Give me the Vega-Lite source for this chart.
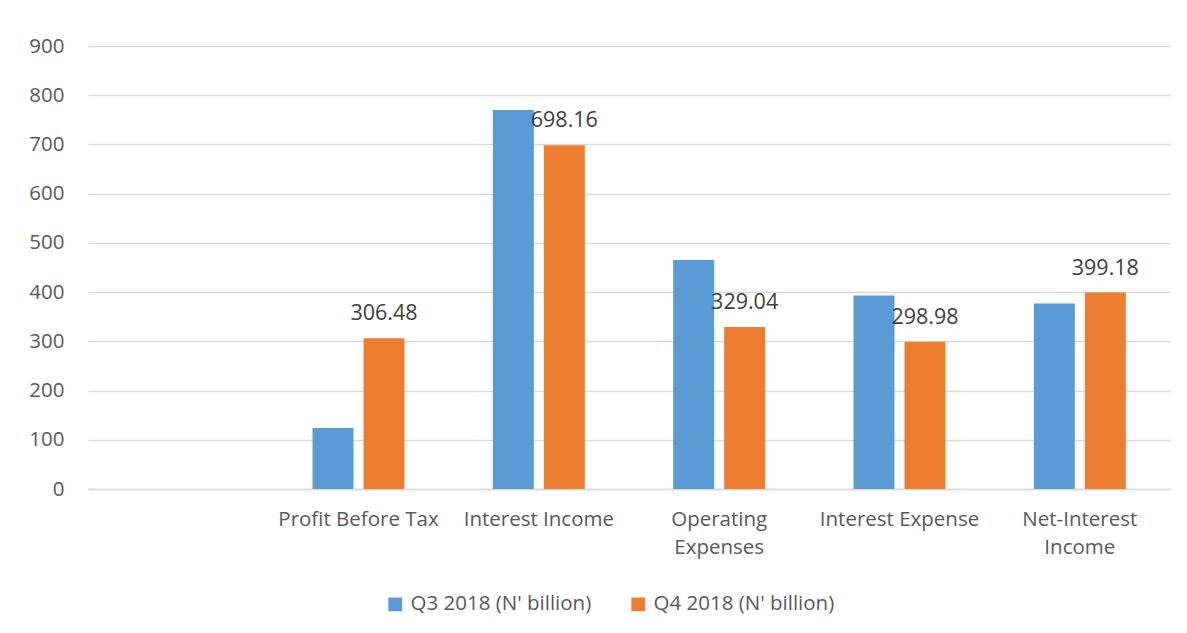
{
  "$schema": "https://vega.github.io/schema/vega-lite/v6.json",
  "autosize": {"type": "none"},
  "width": 1082,
  "height": 443,
  "padding": {"left": 88, "top": 46, "right": 17, "bottom": 144},
  "background": "white",
  "config": {
    "font": "Open Sans",
    "view": {"stroke": null}
  },
  "data": {
    "values": [
      {"category": "Profit Before Tax", "series": "Q3 2018 (N' billion)", "value": 124},
      {"category": "Profit Before Tax", "series": "Q4 2018 (N' billion)", "value": 306.48},
      {"category": "Interest Income", "series": "Q3 2018 (N' billion)", "value": 770},
      {"category": "Interest Income", "series": "Q4 2018 (N' billion)", "value": 698.16},
      {"category": "Operating Expenses", "series": "Q3 2018 (N' billion)", "value": 465},
      {"category": "Operating Expenses", "series": "Q4 2018 (N' billion)", "value": 329.04},
      {"category": "Interest Expense", "series": "Q3 2018 (N' billion)", "value": 393},
      {"category": "Interest Expense", "series": "Q4 2018 (N' billion)", "value": 298.98},
      {"category": "Net-Interest Income", "series": "Q3 2018 (N' billion)", "value": 377},
      {"category": "Net-Interest Income", "series": "Q4 2018 (N' billion)", "value": 399.18}
    ]
  },
  "encoding": {
    "x": {
      "field": "category",
      "type": "nominal",
      "sort": null,
      "scale": {
        "domain": [" ", "Profit Before Tax", "Interest Income", "Operating Expenses", "Interest Expense", "Net-Interest Income"],
        "paddingInner": 0.49,
        "paddingOuter": 0.245
      },
      "axis": {
        "title": null,
        "labelAngle": 0,
        "ticks": false,
        "domainColor": "#d9d9d9",
        "domainWidth": 1.5,
        "labelFontSize": 20.5,
        "labelColor": "#595959",
        "labelPadding": 20,
        "labelLineHeight": 28,
        "labelLimit": 0,
        "labelExpr": "datum.label == 'Operating Expenses' ? ['Operating', 'Expenses'] : datum.label == 'Net-Interest Income' ? ['Net-Interest', 'Income'] : datum.label"
      }
    },
    "xOffset": {
      "field": "series",
      "type": "nominal",
      "scale": {"paddingInner": 0.196, "paddingOuter": 0}
    },
    "y": {
      "field": "value",
      "type": "quantitative",
      "scale": {"domain": [0, 900]},
      "axis": {
        "title": null,
        "values": [0, 100, 200, 300, 400, 500, 600, 700, 800, 900],
        "domain": false,
        "ticks": false,
        "gridColor": "#d9d9d9",
        "gridWidth": 1.5,
        "labelFontSize": 20.5,
        "labelColor": "#595959",
        "labelPadding": 24
      }
    }
  },
  "layer": [
    {
      "mark": {"type": "bar"},
      "encoding": {
        "color": {
          "field": "series",
          "type": "nominal",
          "scale": {"range": ["#5B9BD5", "#ED7D31"]},
          "legend": {
            "title": null,
            "orient": "none",
            "direction": "horizontal",
            "legendX": 297,
            "legendY": 548,
            "symbolType": "square",
            "symbolSize": 190,
            "symbolStrokeWidth": 0,
            "labelFontSize": 20.5,
            "labelColor": "#595959",
            "labelOffset": 5,
            "labelLimit": 0,
            "columnPadding": 36
          }
        }
      }
    },
    {
      "transform": [{"filter": "datum.series == \"Q4 2018 (N' billion)\""}],
      "mark": {"type": "text", "baseline": "alphabetic", "dy": -18, "fontSize": 21.5, "color": "#404040"},
      "encoding": {
        "text": {"field": "value", "type": "quantitative", "format": ".2f"}
      }
    }
  ]
}
